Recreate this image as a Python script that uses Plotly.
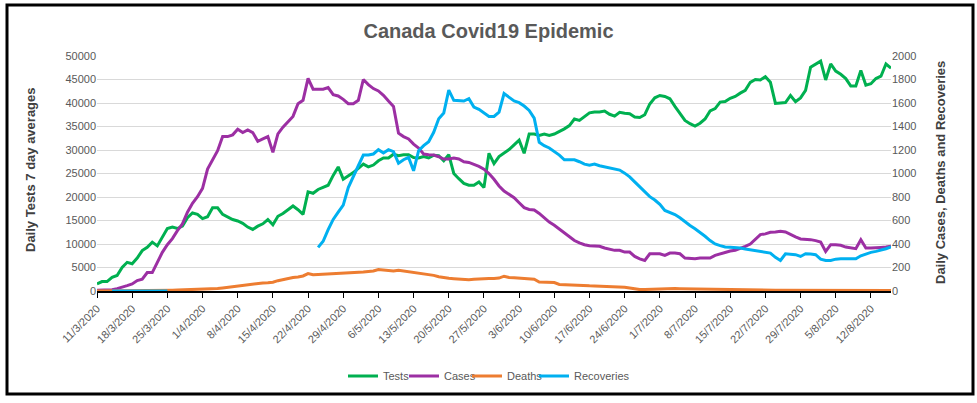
import pandas as pd
import plotly.graph_objects as go

# Categories: daily dates 11/3/2020 .. 16/8/2020
dates = pd.date_range("2020-03-11", "2020-08-16", freq="D")

tests = [1500, 2000, 2000, 2900, 3300, 5000, 6100, 5800, 7000, 8600,
         9300, 10400, 9600, 11400, 13300, 13600, 13300, 13800, 15600, 16600,
         16300, 15400, 15800, 17700, 17700, 16300, 15800, 15200, 14900, 14400,
         13600, 13100, 13800, 14300, 15200, 14100, 15900, 16500, 17300, 18100,
         17300, 16300, 21100, 20800, 21600, 22100, 22500, 24600, 26400, 23800,
         24500, 25200, 26100, 27000, 26400, 26800, 27700, 28300, 28300, 29100,
         28800, 29000, 29000, 28400, 28300, 28600, 28300, 28900, 28800, 27700,
         29000, 25000, 23900, 22900, 22500, 22500, 23200, 22000, 29300, 27100,
         28600, 29300, 30100, 31100, 32100, 29300, 33400, 33400, 33100, 33400,
         33100, 33400, 33900, 34500, 35200, 36600, 36300, 37200, 37900, 38100,
         38100, 38300, 37600, 37200, 38000, 37800, 37700, 37000, 36900, 37500,
         39800, 41100, 41600, 41400, 40900, 39300, 37700, 36300, 35600, 35100,
         35700, 36600, 38300, 38800, 40200, 40300, 41000, 41400, 42100, 42700,
         44400, 45000, 44900, 45600, 44400, 39900, 40000, 40100, 41600, 40300,
         41100, 42700, 47600, 48200, 48900, 44900, 48300, 46800, 46100, 45200,
         43600, 43600, 46900, 43800, 44100, 45200, 45700, 48300, 47400]

cases = [6, 6, 9, 11, 20, 31, 46, 60, 89, 100,
         157, 157, 237, 329, 394, 446, 514, 571, 671, 746,
         803, 874, 1037, 1114, 1194, 1314, 1314, 1329, 1377, 1349,
         1371, 1348, 1274, 1294, 1314, 1180, 1337, 1394, 1437, 1486,
         1594, 1623, 1809, 1717, 1717, 1717, 1731, 1671, 1660, 1631,
         1594, 1594, 1623, 1800, 1757, 1723, 1703, 1666, 1617, 1571,
         1343, 1314, 1294, 1250, 1217, 1166, 1160, 1157, 1143, 1123,
         1123, 1131, 1123, 1100, 1094, 1080, 1060, 1037, 1000, 951,
         894, 851, 823, 794, 751, 709, 694, 689, 660, 623,
         586, 560, 529, 494, 465, 430, 409, 394, 386, 380,
         380, 366, 357, 346, 346, 331, 331, 294, 274, 260,
         317, 317, 317, 303, 323, 323, 317, 280, 274, 274,
         280, 280, 280, 303, 317, 329, 340, 346, 360, 380,
         400, 437, 480, 486, 500, 503, 509, 503, 480, 460,
         443, 443, 437, 429, 417, 337, 394, 394, 389, 374,
         366, 360, 437, 366, 366, 366, 371, 374, 382]

deaths = [1, 1, 1, 1, 1, 2, 2, 2, 3, 3,
          4, 5, 5, 6, 6, 7, 8, 9, 10, 11,
          12, 14, 16, 18, 21, 26, 32, 38, 43, 48,
          54, 58, 64, 68, 71, 75, 88, 98, 107, 115,
          120, 128, 148, 138, 140, 142, 144, 145, 148, 150,
          153, 155, 158, 162, 166, 170, 182, 180, 176, 170,
          176, 170, 165, 160, 156, 148, 140, 133, 122, 112,
          108, 105, 100, 98, 96, 100, 104, 105, 106, 107,
          110, 126, 115, 112, 108, 107, 106, 100, 77, 74,
          72, 72, 56, 53, 51, 50, 48, 46, 44, 43,
          42, 42, 40, 38, 36, 32, 25, 17, 12, 13,
          15, 18, 18, 19, 20, 21, 20, 19, 18, 17,
          15, 14, 13, 12, 11, 10, 10, 9, 8, 8,
          7, 7, 7, 7, 6, 6, 6, 6, 6, 5,
          5, 5, 5, 5, 5, 5, 5, 5, 5, 5,
          5, 5, 5, 5, 5, 5, 5, 5, 5]

N = None
recoveries = [N, N, N, 0, 0, 0, 0, 0, 0, 0,
              0, 0, 0, 0, 0, N, N, N, N, N,
              N, N, N, N, N, N, N, N, N, N,
              N, N, N, N, N, N, N, N, N, N,
              N, N, N, N, 371, 423, 523, 609, 671, 731,
              880, 980, 1066, 1157, 1157, 1166, 1203, 1174, 1203, 1186,
              1088, 1117, 1137, 1023, 1194, 1237, 1271, 1351, 1466, 1514,
              1709, 1623, 1617, 1617, 1637, 1566, 1546, 1517, 1486, 1486,
              1523, 1680, 1651, 1617, 1603, 1574, 1537, 1471, 1266, 1237,
              1217, 1189, 1157, 1117, 1117, 1117, 1100, 1080, 1071, 1080,
              1066, 1057, 1051, 1043, 1029, 1003, 971, 929, 886, 837,
              803, 774, 737, 686, 671, 651, 623, 586, 557, 529,
              500, 466, 429, 400, 386, 374, 372, 371, 366, 357,
              351, 343, 337, 329, 323, 286, 260, 317, 314, 309,
              294, 317, 314, 309, 271, 260, 260, 271, 274, 274,
              274, 274, 300, 317, 329, 337, 346, 360, 376]

tick_dates = dates[::7]
tick_labels = [f"{d.day}/{d.month}/{d.year}" for d in tick_dates]

GREY = "#595959"
FONT = "Liberation Sans"

L, R, T, B = 97, 891, 56, 291   # plot area in page pixels
PW, PH = R - L, B - T


def px_x(px):
    return (px - L) / PW


def px_y(py):
    return (B - py) / PH


fig = go.Figure()
fig.add_trace(go.Scatter(x=dates, y=tests, name="Tests", mode="lines",
                         line=dict(color="#00b050", width=3), yaxis="y", legend="legend"))
fig.add_trace(go.Scatter(x=dates, y=cases, name="Cases", mode="lines",
                         line=dict(color="#9c2fa3", width=3), yaxis="y2", legend="legend2"))
fig.add_trace(go.Scatter(x=dates, y=deaths, name="Deaths", mode="lines",
                         line=dict(color="#ed7d31", width=3), yaxis="y2", legend="legend3"))
fig.add_trace(go.Scatter(x=dates, y=recoveries, name="Recoveries", mode="lines",
                         line=dict(color="#00b0f0", width=3), yaxis="y2", legend="legend4"))

leg_common = dict(orientation="h", xanchor="left", yanchor="middle", y=px_y(376),
                  font=dict(size=11, color=GREY, family=FONT), itemwidth=30,
                  bgcolor="rgba(0,0,0,0)")

fig.update_layout(
    width=977, height=403,
    margin=dict(l=L, r=977 - R, t=T, b=403 - B),
    paper_bgcolor="white", plot_bgcolor="white",
    font=dict(family=FONT, color=GREY, size=11),
    title=dict(text="<b>Canada Covid19 Epidemic</b>", x=0.5, xanchor="center",
               y=1 - 31 / 403, yanchor="middle",
               font=dict(size=20, color=GREY, family=FONT)),
    xaxis=dict(type="date", range=[dates[0], dates[-1]],
               tickvals=list(tick_dates), ticktext=tick_labels, tickangle=-45,
               showgrid=False, showline=True, linecolor="black", linewidth=1.5,
               ticks="outside", ticklen=5, tickcolor="black",
               tickfont=dict(size=11, color=GREY), zeroline=False),
    yaxis=dict(range=[0, 50000], dtick=5000, tickformat="d",
               showgrid=True, gridcolor="#d9d9d9", gridwidth=1,
               zeroline=False, showline=False, ticks="",
               tickfont=dict(size=11, color=GREY)),
    yaxis2=dict(range=[0, 2000], dtick=200, overlaying="y", side="right",
                showgrid=False, zeroline=False, showline=False, ticks="",
                tickfont=dict(size=11, color=GREY)),
    legend=dict(x=px_x(343), **leg_common),
    legend2=dict(x=px_x(404), **leg_common),
    legend3=dict(x=px_x(467), **leg_common),
    legend4=dict(x=px_x(534), **leg_common),
    showlegend=True,
)

fig.add_annotation(text="<b>Daily Tests 7 day averages</b>", xref="paper", yref="paper",
                   x=px_x(30), y=px_y(170), textangle=-90,
                   showarrow=False, font=dict(size=13, color="#404040", family=FONT),
                   xanchor="center", yanchor="middle")
fig.add_annotation(text="<b>Daily Cases, Deaths and Recoveries</b>", xref="paper", yref="paper",
                   x=px_x(940), y=px_y(173), textangle=-90,
                   showarrow=False, font=dict(size=13, color="#404040", family=FONT),
                   xanchor="center", yanchor="middle")

fig.add_shape(type="rect", xref="paper", yref="paper",
              x0=px_x(7), x1=px_x(973), y0=px_y(394), y1=px_y(5),
              line=dict(color="black", width=3), fillcolor="rgba(0,0,0,0)", layer="above")

fig.write_html("out.html", config={"displayModeBar": False},
               post_script="document.body.style.margin='0';document.body.style.overflow='hidden';")
